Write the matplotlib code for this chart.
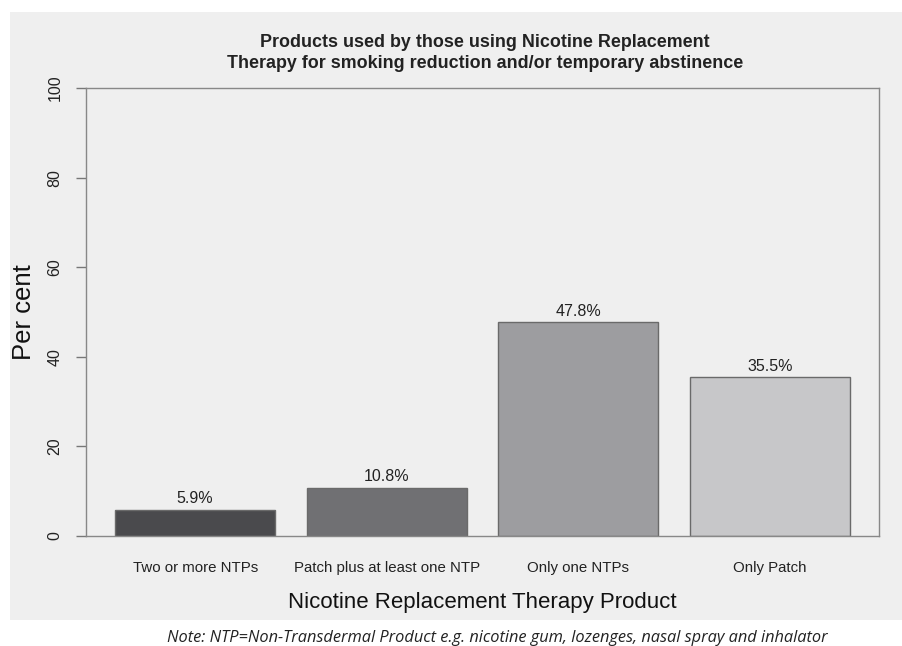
import matplotlib.pyplot as plt
from matplotlib.patches import Rectangle

categories = ['Two or more NTPs', 'Patch plus at least one NTP',
              'Only one NTPs', 'Only Patch']
percent = [5.9, 10.8, 47.8, 35.5]
bar_colors = ['#4a4a4d', '#707073', '#9d9da0', '#c7c7c9']
yticks = [0, 20, 40, 60, 80, 100]

title = ('Products used by those using Nicotine Replacement\n'
         'Therapy for smoking reduction and/or temporary abstinence')
note = ('Note: NTP=Non-Transdermal Product e.g. nicotine gum, lozenges, '
        'nasal spray and inhalator')

plt.rcParams['font.family'] = ['Liberation Sans', 'DejaVu Sans']

W, H = 903, 646
fig = plt.figure(figsize=(W / 100, H / 100), dpi=100, facecolor='white')

# grey panel behind the chart
fig.patches.append(Rectangle((10 / W, 1 - 620 / H), 893 / W, 608 / H,
                             transform=fig.transFigure, facecolor='#efefef',
                             edgecolor='none', zorder=-5))

ax = fig.add_axes([86 / W, 1 - 536 / H, 793 / W, 448 / H])
ax.set_facecolor('#efefef')

# R barplot layout: width 1, space 0.2
pos = [0.7 + 1.2 * i for i in range(len(categories))]
ax.bar(pos, percent, width=1.0, color=bar_colors, edgecolor='#6a6a6a',
       linewidth=1.0, zorder=2)
for x, v in zip(pos, percent):
    ax.text(x, v + 0.7, f'{v}%', ha='center', va='bottom', fontsize=11.5,
            color='#222222')

ax.set_xlim(0.016, 4.984)
ax.set_ylim(0, 100)
ax.set_yticks(yticks)
ax.set_yticklabels([str(t) for t in yticks], rotation=90, va='center',
                   fontsize=11.5, color='#222222')
ax.tick_params(axis='y', length=7, width=1, color='#777777', pad=10)
ax.set_xticks(pos)
ax.set_xticklabels(categories, fontsize=10.8, color='#222222')
ax.tick_params(axis='x', length=0, pad=18)
for s in ax.spines.values():
    s.set_color('#888888')
    s.set_linewidth(1.0)

ax.set_ylabel('Per cent', fontsize=18.5, color='#111111', labelpad=8)
ax.set_xlabel('Nicotine Replacement Therapy Product', fontsize=16,
              color='#111111', labelpad=12)

fig.text(485 / W, 1 - 53 / H, title, ha='center', va='center',
         fontsize=12.9, fontweight='bold', color='#222222', linespacing=1.35)
fig.text(497 / W, 1 - 638 / H, note, ha='center', va='center',
         fontsize=11.8, style='italic', color='#222222',
         family=['Open Sans', 'DejaVu Sans'])

fig.savefig('out.png', dpi=100, facecolor='white')
